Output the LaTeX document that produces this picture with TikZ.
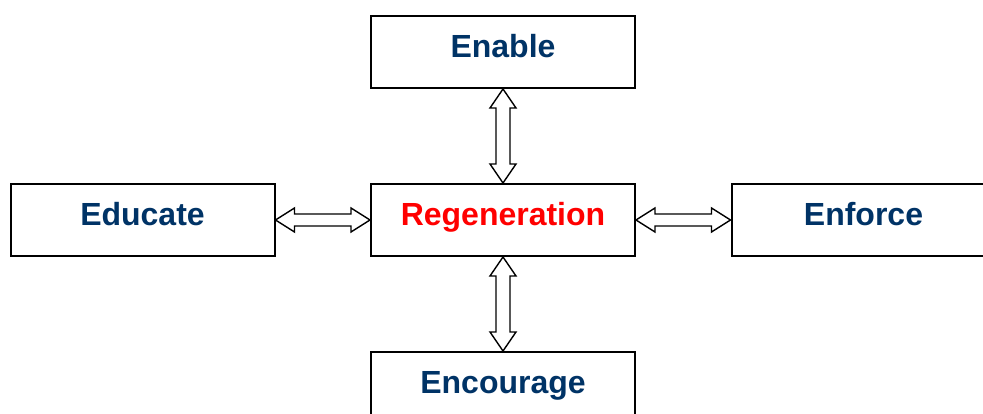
\documentclass[tikz,border=0pt]{standalone}
\usepackage{fontspec}
\setmainfont{Liberation Sans}
\usetikzlibrary{calc}
\definecolor{navy}{RGB}{0,51,102}
\definecolor{redtxt}{RGB}{255,0,0}
\begin{document}
\begin{tikzpicture}[x=1pt,y=1pt,
  box/.style={draw=black, line width=2pt, fill=white, minimum width=264pt, minimum height=72pt, inner sep=0pt,
    text height=23pt, text depth=12pt,
    font=\fontsize{32}{38}\selectfont\bfseries, text=navy},
  blockarrow/.style={draw=black, line width=1.4pt, fill=white, line join=miter}]
\useasboundingbox (0,0) rectangle (983,414);
\clip (0,0) rectangle (983,414);
\node[box] (enable) at (503,362) {Enable};
\node[box, text=redtxt] (reg) at (503,194) {Regeneration};
\node[box] (edu) at (142.5,194) {Educate};
\node[box] (enf) at (863.5,194) {Enforce};
\node[box] (enc) at (503,26) {Encourage};
% horizontal arrows
\foreach \a/\b in {edu/reg, reg/enf}{
  \draw[blockarrow] (\a.east) -- ++(19,12) -- ++(0,-6) -- ($(\b.west)+(-19,6)$) -- ++(0,6) -- (\b.west)
    -- ++(-19,-12) -- ++(0,6) -- ($(\a.east)+(19,-6)$) -- ++(0,-6) -- cycle;
}
% vertical arrows
\foreach \a/\b in {enable/reg, reg/enc}{
  \draw[blockarrow] (\a.south) -- ++(13,-19) -- ++(-6,0) -- ($(\b.north)+(7,19)$) -- ++(6,0) -- (\b.north)
    -- ++(-13,19) -- ++(6,0) -- ($(\a.south)+(-7,-19)$) -- ++(-6,0) -- cycle;
}
\end{tikzpicture}
\end{document}
